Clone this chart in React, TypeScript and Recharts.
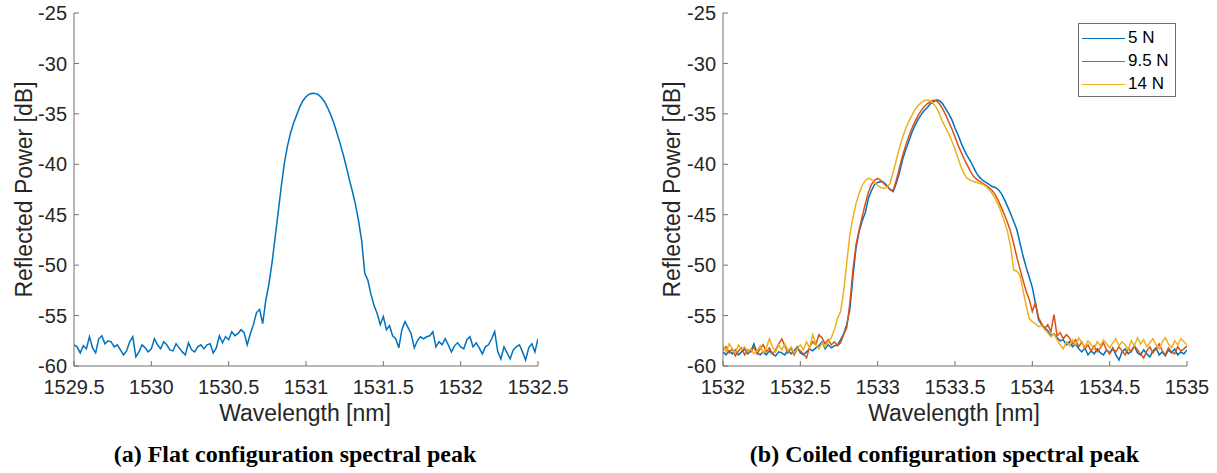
import React from 'react';
import { LineChart, Line, XAxis, YAxis, Legend } from 'recharts';

// ---------- data ----------
const FLAT_START = 1529.5;
const COIL_START = 1532.0;
const WL_STEP = 0.02;

const X_TICKS_FLAT = [1529.5, 1530, 1530.5, 1531, 1531.5, 1532, 1532.5];
const X_TICKS_COIL = [1532, 1532.5, 1533, 1533.5, 1534, 1534.5, 1535];
const Y_TICKS = [-60, -55, -50, -45, -40, -35, -30, -25];

const FLAT_POWER = [
  -57.9, -58.1, -58.7, -58.0, -58.3, -57.1, -58.2, -58.7, -57.3, -57.0,
  -57.8, -57.5, -57.6, -58.1, -57.9, -58.4, -58.9, -58.5, -57.6, -57.1,
  -59.1, -58.6, -57.9, -58.2, -58.6, -58.3, -57.3, -57.9, -58.3, -57.6,
  -57.9, -58.4, -58.5, -57.8, -58.2, -58.6, -58.9, -57.7, -58.4, -58.6,
  -58.1, -57.9, -58.3, -57.9, -57.8, -58.7, -58.2, -57.0, -57.7, -57.1,
  -57.4, -56.6, -57.0, -56.8, -56.4, -56.7, -57.9, -56.8, -55.9, -54.7,
  -54.4, -55.8, -53.5, -51.9, -49.8, -47.3, -44.8, -42.2, -39.9, -38.2,
  -36.9, -35.9, -35.1, -34.3, -33.7, -33.3, -33.05, -32.95, -32.97, -33.1,
  -33.4, -33.8, -34.4, -35.1, -35.9, -36.9, -37.9, -39.0, -40.2, -41.5,
  -42.7, -44.0, -45.6, -47.6, -50.8, -51.5, -52.9, -54.0, -54.8, -55.9,
  -55.1, -56.4, -56.0, -57.0, -57.3, -58.2, -56.4, -55.6, -56.2, -56.8,
  -58.2, -57.5, -57.1, -57.3, -57.1, -57.0, -56.6, -58.1, -57.6, -57.9,
  -57.3, -57.9, -58.6, -58.0, -57.7, -58.1, -58.3, -57.4, -57.1, -58.1,
  -57.7, -58.2, -58.8, -58.1, -57.9, -57.3, -56.6, -58.6, -59.3, -58.1,
  -58.7, -59.3, -58.4, -58.1, -57.9, -58.6, -59.4, -58.2, -57.8, -58.6,
  -57.3,
];

const COIL_5N = [
  -58.6, -58.9, -58.5, -58.8, -58.4, -58.9, -58.6, -58.3, -58.8, -58.5,
  -57.8, -58.7, -58.9, -58.6, -58.9, -58.5, -58.8, -59.0, -58.6, -58.7,
  -58.9, -58.4, -58.8, -58.5, -58.1, -58.7, -58.9, -58.6, -58.3, -58.5,
  -58.2, -58.0, -57.6, -58.3, -57.9, -58.2, -58.0, -57.9, -57.4, -56.8,
  -55.9, -54.4, -51.2, -48.3, -46.7, -45.6, -44.8, -43.4, -42.6, -42.0,
  -41.8, -41.7, -41.8, -42.1, -42.5, -42.7, -41.9, -40.9, -39.6, -38.6,
  -37.8, -36.9, -36.2, -35.6, -35.1, -34.7, -34.4, -34.0, -33.8, -33.6,
  -33.7, -34.0, -34.5, -35.0, -35.6, -36.4, -37.1, -37.9, -38.6, -39.2,
  -39.7, -40.3, -40.9, -41.3, -41.6, -41.8, -42.0, -42.2, -42.3, -42.5,
  -42.9, -43.5, -44.2, -44.9, -45.7, -46.5, -47.8, -49.1, -50.2, -51.2,
  -52.2, -53.8, -55.4, -55.9, -56.2, -56.5, -57.0, -56.8, -57.2, -57.5,
  -57.4, -57.9, -57.6, -58.1, -57.8, -58.3, -58.6, -58.2, -58.9, -58.5,
  -58.8, -58.3, -58.7, -58.9, -58.4, -58.7, -58.2, -58.9, -59.4, -58.6,
  -58.3, -58.8, -58.5, -58.0, -58.7, -58.9, -58.4, -58.8, -59.1, -58.5,
  -58.2, -58.9, -58.6, -59.0, -58.4, -58.7, -58.3, -58.9, -58.6, -58.8,
  -58.4,
];

const COIL_9_5N = [
  -58.4, -58.1, -58.7, -58.3, -59.0, -58.5, -58.2, -58.9, -58.4, -58.6,
  -58.1, -58.8, -58.3, -57.9, -58.6, -58.2, -58.8, -58.4, -57.8, -57.3,
  -58.0, -58.7, -58.2, -58.9, -58.3, -58.5, -58.8, -59.2, -58.1, -57.6,
  -57.9, -56.9, -57.2, -57.8, -57.4, -57.9, -57.6, -58.0, -57.7, -56.9,
  -56.2, -53.8, -50.5, -48.0, -46.5, -45.2, -43.9, -42.8, -42.0, -41.6,
  -41.4, -41.6, -41.9, -42.2, -42.5, -42.6, -41.6, -40.4, -39.2, -38.2,
  -37.3, -36.5, -35.8, -35.2, -34.7, -34.3, -34.0, -33.8, -33.65, -33.7,
  -34.0, -34.5, -35.1, -35.8, -36.5, -37.3, -38.1, -38.8, -39.5, -40.1,
  -40.7, -41.2, -41.5, -41.7, -41.9, -42.1, -42.3, -42.6, -43.0, -43.6,
  -44.3, -45.0, -45.8, -46.7, -47.9, -49.2, -50.4, -51.5, -52.6, -53.4,
  -54.6, -53.7, -55.2, -55.8, -56.3, -55.9, -56.6, -54.9, -57.0, -56.7,
  -57.3, -56.9, -57.2, -57.8, -57.4, -58.1, -57.6, -58.3, -57.9, -58.5,
  -58.0, -58.6, -58.2, -57.7, -58.4, -58.8, -58.3, -58.6, -58.1, -58.5,
  -58.9, -58.2, -58.6, -58.0, -58.4, -58.8, -59.2, -58.5, -58.1, -58.7,
  -58.3, -57.8, -58.5, -58.9, -58.2, -58.6, -58.8, -58.1, -58.5, -58.3,
  -58.0,
];

const COIL_14N = [
  -58.0, -58.6, -57.8, -58.3, -58.7, -57.9, -58.4, -58.1, -58.6, -58.3,
  -58.8, -58.5, -58.0, -58.7, -58.2, -57.3, -58.1, -58.6, -57.9, -58.4,
  -57.8, -58.5, -58.1, -58.7, -58.3, -57.9, -58.4, -57.6, -58.2, -56.9,
  -57.8, -58.3, -57.7, -58.1, -57.6, -57.2, -56.4, -55.3, -54.6, -52.6,
  -49.8, -47.0, -45.3, -43.9, -42.9, -42.1, -41.6, -41.4, -41.5, -41.8,
  -42.1, -42.3, -42.4, -42.3, -41.9, -40.8, -39.6, -38.4, -37.4, -36.5,
  -35.8, -35.2, -34.6, -34.2, -33.9, -33.7, -33.63, -33.7, -34.0, -34.4,
  -35.0, -35.8, -36.4, -37.0, -37.7, -38.5, -39.4, -40.3, -41.0, -41.4,
  -41.6, -41.7, -41.8, -41.9, -42.0, -42.2, -42.5, -42.9, -43.4, -44.0,
  -44.8, -45.7, -46.7, -48.2, -50.5, -50.6, -51.0, -52.5, -54.0, -55.3,
  -55.6, -55.8, -56.1, -56.0, -56.4, -56.7, -57.1, -56.8, -57.4, -57.9,
  -58.3, -57.6, -58.0, -57.4, -57.9, -57.2, -57.7, -58.1, -57.5, -57.9,
  -58.3, -57.6, -58.0, -57.4, -57.8, -58.2, -57.7, -57.3, -58.0, -57.6,
  -57.9, -58.4, -57.5, -58.0, -57.2, -57.8, -57.4, -58.1, -57.7, -57.3,
  -57.9, -58.3, -57.6, -57.2, -57.8, -58.2, -57.5, -57.9, -57.3, -57.6,
  -57.9,
];

const SERIES_NAMES = ['5 N', '9.5 N', '14 N'];
const SERIES_COLORS = ['#0072BD', '#D95319', '#EDB120'];

const flatData = FLAT_POWER.map((p, i) => ({
  w: Number((FLAT_START + i * WL_STEP).toFixed(2)),
  p,
}));

const coilData = COIL_5N.map((v, i) => ({
  w: Number((COIL_START + i * WL_STEP).toFixed(2)),
  n5: v,
  n95: COIL_9_5N[i],
  n14: COIL_14N[i],
}));

// ---------- styling ----------
const SANS = '"Liberation Sans", Arial, Helvetica, sans-serif';
const SERIF = '"Liberation Serif", "Times New Roman", serif';
const TEXT = '#262626';
const AXIS = '#707070';

const tickStyle = { fill: TEXT, fontSize: 20, fontFamily: SANS };

const LegendBox = () => (
  <div
    style={{
      width: 98,
      height: 74,
      boxSizing: 'border-box',
      border: `1px solid ${AXIS}`,
      background: '#fff',
      fontFamily: SANS,
      fontSize: 17,
      color: '#000',
      position: 'relative',
    }}
  >
    {SERIES_NAMES.map((n, i) => (
      <div
        key={n}
        style={{
          position: 'absolute',
          left: 3,
          top: 4 + i * 23,
          height: 20,
          display: 'flex',
          alignItems: 'center',
          whiteSpace: 'nowrap',
        }}
      >
        <span
          style={{
            display: 'inline-block',
            width: 43,
            height: 0,
            borderTop: `1.5px solid ${SERIES_COLORS[i]}`,
            marginRight: 3,
          }}
        />
        <span>{n}</span>
      </div>
    ))}
  </div>
);

function Panel({
  data,
  ticks,
  domain,
  children,
  legend,
}: {
  data: any[];
  ticks: number[];
  domain: [number, number];
  children: React.ReactNode;
  legend?: boolean;
}) {
  return (
    <LineChart
      width={570}
      height={420}
      data={data}
      margin={{ top: 13, right: 32, bottom: 0, left: 0 }}
    >
      <XAxis
        dataKey="w"
        type="number"
        domain={domain}
        ticks={ticks}
        interval={0}
        allowDataOverflow
        height={54}
        tick={tickStyle}
        tickSize={-5}
        tickMargin={19}
        stroke={AXIS}
        axisLine={{ stroke: AXIS }}
        tickLine={{ stroke: AXIS }}
      />
      <YAxis
        type="number"
        domain={[-60, -25]}
        ticks={Y_TICKS}
        interval={0}
        allowDataOverflow
        width={74}
        tick={tickStyle}
        tickSize={-5}
        tickMargin={12}
        stroke={AXIS}
        axisLine={{ stroke: AXIS }}
        tickLine={{ stroke: AXIS }}
      />
      {legend && (
        <Legend
          layout="vertical"
          align="center"
          verticalAlign="middle"
          content={() => <LegendBox />}
          wrapperStyle={{ left: 429, top: 23, width: 98, height: 74 }}
        />
      )}
      {children}
    </LineChart>
  );
}

export default function App() {
  return (
    <div
      style={{
        position: 'absolute',
        left: 0,
        top: 0,
        width: 1217,
        height: 473,
        background: '#fff',
        overflow: 'hidden',
      }}
    >
      <div style={{ position: 'absolute', left: 0, top: 0 }}>
        <Panel data={flatData} ticks={X_TICKS_FLAT} domain={[1529.5, 1532.5]}>
          <Line
            dataKey="p"
            name="Flat"
            stroke="#0072BD"
            strokeWidth={1.5}
            dot={false}
            type="linear"
            isAnimationActive={false}
          />
        </Panel>
      </div>
      <div style={{ position: 'absolute', left: 649, top: 0 }}>
        <Panel data={coilData} ticks={X_TICKS_COIL} domain={[1532, 1535]} legend>
          <Line
            dataKey="n5"
            name={SERIES_NAMES[0]}
            stroke={SERIES_COLORS[0]}
            strokeWidth={1.5}
            dot={false}
            type="linear"
            isAnimationActive={false}
          />
          <Line
            dataKey="n95"
            name={SERIES_NAMES[1]}
            stroke={SERIES_COLORS[1]}
            strokeWidth={1.5}
            dot={false}
            type="linear"
            isAnimationActive={false}
          />
          <Line
            dataKey="n14"
            name={SERIES_NAMES[2]}
            stroke={SERIES_COLORS[2]}
            strokeWidth={1.5}
            dot={false}
            type="linear"
            isAnimationActive={false}
          />
        </Panel>
      </div>
      <svg
        width={1217}
        height={473}
        style={{ position: 'absolute', left: 0, top: 0, pointerEvents: 'none' }}
      >
        <text
          transform="translate(32,189.5) rotate(-90)"
          textAnchor="middle"
          fontFamily={SANS}
          fontSize={23}
          fill={TEXT}
        >
          Reflected Power [dB]
        </text>
        <text
          transform="translate(680,189.5) rotate(-90)"
          textAnchor="middle"
          fontFamily={SANS}
          fontSize={23}
          fill={TEXT}
        >
          Reflected Power [dB]
        </text>
        <text x={305} y={421} textAnchor="middle" fontFamily={SANS} fontSize={23} fill={TEXT}>
          Wavelength [nm]
        </text>
        <text x={954} y={421} textAnchor="middle" fontFamily={SANS} fontSize={23} fill={TEXT}>
          Wavelength [nm]
        </text>
        <text
          x={295}
          y={462}
          textAnchor="middle"
          fontFamily={SERIF}
          fontWeight="bold"
          fontSize={24}
          fill="#000"
        >
          (a) Flat configuration spectral peak
        </text>
        <text
          x={944.5}
          y={462}
          textAnchor="middle"
          fontFamily={SERIF}
          fontWeight="bold"
          fontSize={24}
          fill="#000"
        >
          (b) Coiled configuration spectral peak
        </text>
      </svg>
    </div>
  );
}
